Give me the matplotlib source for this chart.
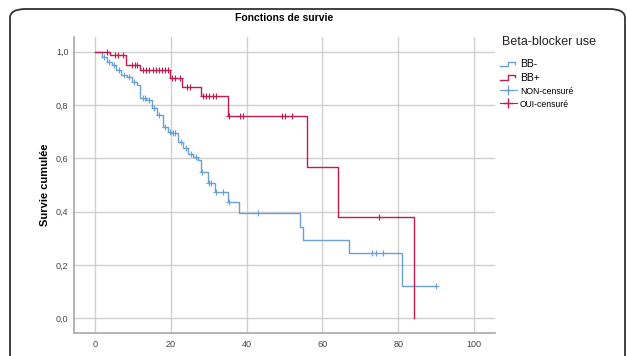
import numpy as np
import matplotlib
matplotlib.use("Agg")
import matplotlib.pyplot as plt
from matplotlib.lines import Line2D
from matplotlib.patches import FancyBboxPatch
from matplotlib.legend_handler import HandlerBase

plt.rcParams["font.family"] = ["Liberation Sans", "DejaVu Sans"]

# BB- (no beta-blocker): event times, survival after each event, censored times
bb_neg_t = [0, 1.8, 3.1, 4.4, 5.7, 7.0, 8.4, 9.7, 11.0, 11.9, 13.6, 15.0, 16.3, 18.0,
            19.4, 20.2, 22.0, 23.3, 24.6, 26.0, 27.3, 28.0, 29.9, 31.7, 35.2, 38.1,
            54.1, 55.0, 67.1, 80.9]
bb_neg_s = [1.0, 0.98, 0.962, 0.949, 0.931, 0.912, 0.906, 0.887, 0.874, 0.825, 0.818,
            0.787, 0.762, 0.718, 0.699, 0.695, 0.662, 0.637, 0.618, 0.606, 0.593, 0.549,
            0.506, 0.475, 0.435, 0.394, 0.341, 0.293, 0.245, 0.122]
bb_neg_cens = [2.3, 3.6, 5.0, 6.3, 7.6, 9.0, 10.3, 12.6, 13.1, 14.2, 15.6, 17.0, 18.6,
               19.8, 20.6, 21.2, 22.6, 24.0, 25.3, 26.6, 28.2, 30.0, 30.7, 32.0, 33.9,
               35.3, 43.1, 73.0, 74.1, 76.1, 90.0]

# BB+ (beta-blocker)
bb_pos_t = [0, 4.0, 8.2, 11.9, 19.8, 23.1, 28.1, 35.2, 56.0, 64.0, 84.2]
bb_pos_s = [1.0, 0.987, 0.949, 0.931, 0.903, 0.868, 0.833, 0.758, 0.568, 0.381, 0.0]
bb_pos_cens = [3.1, 5.3, 6.1, 7.3, 9.9, 10.6, 11.2, 12.8, 13.6, 14.4, 15.2, 16.0, 16.8,
               17.6, 18.4, 19.2, 20.3, 21.1, 22.4, 24.2, 25.2, 28.6, 29.3, 30.2, 31.1,
               32.0, 35.4, 38.3, 39.1, 49.3, 50.1, 52.0, 75.0]

blue = "#6a9fd8"
red = "#c41a4c"
grid_c = "#d0d0d0"


def surv_at(times, surv, t):
    i = np.searchsorted(times, t, side="right") - 1
    return np.array(surv)[i]


class StepHandler(HandlerBase):
    def create_artists(self, legend, orig_handle, xd, yd, w, h, fontsize, trans):
        xs = [-xd, -xd + 0.5 * w, -xd + 0.5 * w, -xd + 0.9 * w, -xd + 0.9 * w]
        ys = [-yd + 0.15 * h, -yd + 0.15 * h, -yd + 0.75 * h, -yd + 0.75 * h, -yd + 0.45 * h]
        ln = Line2D(xs, ys, color=orig_handle.get_color(), lw=1.0, transform=trans)
        return [ln]


fig = plt.figure(figsize=(6.27, 3.56), dpi=100)
ax = fig.add_axes([74 / 627, 1 - 333 / 356, (495 - 74) / 627, (333 - 37) / 356])

for t, s, c, col in [(bb_neg_t, bb_neg_s, bb_neg_cens, blue),
                     (bb_pos_t, bb_pos_s, bb_pos_cens, red)]:
    tt = list(t)
    ss = list(s)
    if max(c) > tt[-1]:
        tt.append(max(c))
        ss.append(ss[-1])
    ax.step(tt, ss, where="post", color=col, lw=1.0, zorder=3)
    ax.plot(c, surv_at(t, s, c), ls="none", marker="+", ms=5, mew=0.8,
            color=col, zorder=4)

ax.set_xlim(-5.5, 105.5)
ax.set_ylim(-0.055, 1.055)
ax.set_xticks([0, 20, 40, 60, 80, 100])
ax.set_yticks([0, 0.2, 0.4, 0.6, 0.8, 1.0])
ax.set_yticklabels(["0,0", "0,2", "0,4", "0,6", "0,8", "1,0"])
ax.tick_params(length=0, labelsize=6.5, labelcolor="#444444")
ax.tick_params(axis="x", pad=5)
ax.tick_params(axis="y", pad=4)
ax.grid(True, color=grid_c, lw=1.0)
ax.set_axisbelow(True)
for sp in ["top", "right"]:
    ax.spines[sp].set_visible(False)
for sp in ["left", "bottom"]:
    ax.spines[sp].set_color("#a8a8a8")
    ax.spines[sp].set_linewidth(1.2)

ax.set_ylabel("Survie cumulée", fontsize=8, fontweight="bold", labelpad=4)
fig.text(284 / 627, 1 - 18 / 356, "Fonctions de survie", ha="center", va="center",
         fontsize=7.5, fontweight="bold")

fig.text(502 / 627, 1 - 42 / 356, "Beta-blocker use", ha="left", va="center",
         fontsize=9, color="#222222")
handles = [Line2D([], [], color=blue), Line2D([], [], color=red),
           Line2D([], [], color=blue, marker="+", lw=0.8, ms=7),
           Line2D([], [], color=red, marker="+", lw=0.8, ms=7)]
labels = ["BB-", "BB+", "NON-censuré", "OUI-censuré"]
leg = fig.legend(handles, labels, loc="upper left", bbox_to_anchor=(498 / 627, 1 - 57 / 356),
                 frameon=False, fontsize=7.5, handlelength=1.6, handletextpad=0.3,
                 labelspacing=0.35, borderaxespad=0, borderpad=0.2,
                 handler_map={handles[0]: StepHandler(), handles[1]: StepHandler()})
for txt in leg.get_texts()[2:]:
    txt.set_fontsize(6.2)

frame = FancyBboxPatch((10 / 627, -0.2), 615 / 627, 1.2 - 9 / 356,
                       boxstyle="round,pad=0,rounding_size=0.025",
                       transform=fig.transFigure, fill=False, ec="#333333", lw=1.3,
                       clip_on=False)
fig.patches.append(frame)

fig.savefig("out.png", dpi=100)
